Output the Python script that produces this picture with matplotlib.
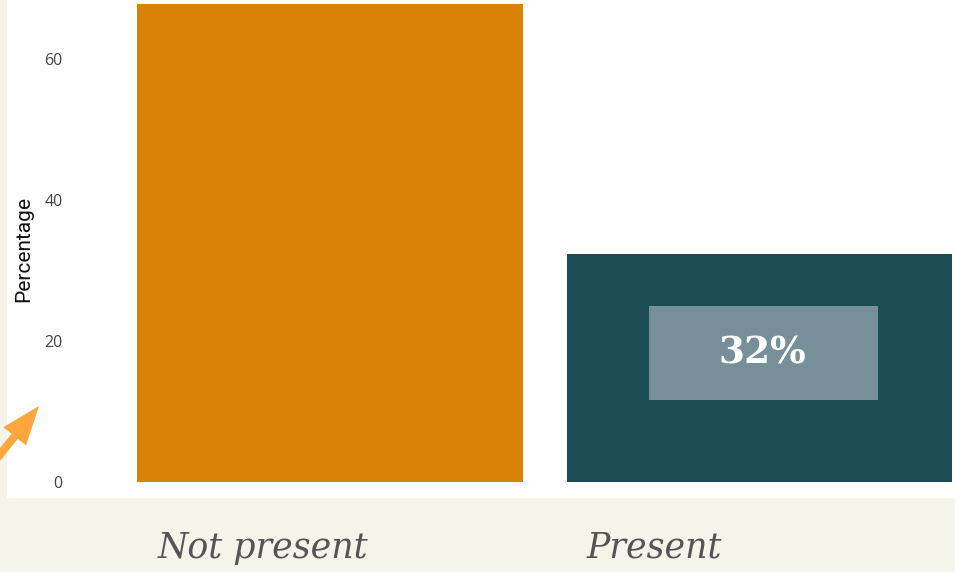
import matplotlib
matplotlib.use("Agg")
import matplotlib.pyplot as plt
from matplotlib.patches import FancyArrowPatch, Rectangle

categories = ["Not present", "Present"]
values = [67.9, 32.4]
bar_colors = ["#d9820a", "#1c4c54"]
yticks = [0, 20, 40, 60]
label_value = "32%"

W, H = 955, 572
fig = plt.figure(figsize=(W / 100, H / 100), dpi=100)
fig.patch.set_facecolor("#f5f3ea")

ax = fig.add_axes([7 / W, (H - 498) / H, 948 / W, 498 / H])
ax.set_facecolor("white")
x = [0, 1]
ax.bar(x, values, width=0.898, color=bar_colors, zorder=2)
ax.set_xlim(-0.752, 1.455)
ax.set_ylim(-2.27, 68.4)
for s in ax.spines.values():
    s.set_visible(False)
ax.set_xticks([])
ax.set_yticks(yticks)
ax.set_yticklabels([str(t) for t in yticks], fontfamily="Open Sans", fontsize=11.5, color="#444444")
ax.tick_params(axis="y", length=0, pad=-40)
for lbl in ax.get_yticklabels():
    lbl.set_horizontalalignment("right")
ax.set_ylabel("Percentage", fontfamily="Roboto", fontsize=15, color="#111111")
ax.yaxis.set_label_coords(0.0275, 0.5)

# value label box on the second bar
ax.add_patch(Rectangle((1 - 0.258, 11.7), 0.533, 13.3, facecolor="#778f99",
                       edgecolor="none", zorder=2.5))
ax.text(1.007, 18.3, label_value, ha="center", va="center", fontsize=27,
        fontweight="bold", fontfamily="DejaVu Serif", color="white", zorder=3)

# category labels in the cream band
label_x = [263, 654]
for cx, c in zip(label_x, categories):
    fig.text(cx / W, 1 - 548 / H, c, ha="center", va="center", fontsize=25,
             fontstyle="italic", fontfamily="DejaVu Serif", color="#555555")

# orange arrow
arr = FancyArrowPatch((-14 / W, 1 - 472 / H), (39 / W, 1 - 406 / H),
                      transform=fig.transFigure,
                      arrowstyle="simple,head_length=28,head_width=21,tail_width=5.8",
                      facecolor="#ffa63d", edgecolor="none", linewidth=0,
                      shrinkA=0, shrinkB=0, mutation_scale=1)
fig.patches.append(arr)

fig.savefig("out.png", dpi=100, facecolor=fig.get_facecolor())
